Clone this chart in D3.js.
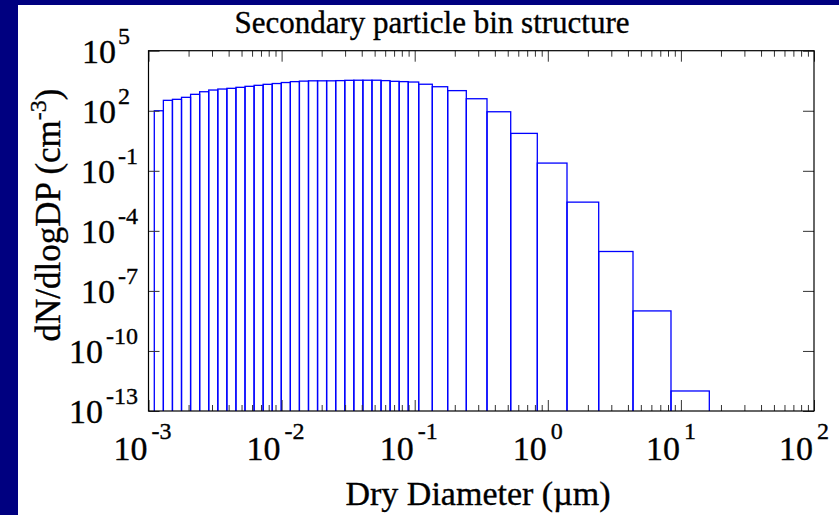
<!DOCTYPE html>
<html>
<head>
<meta charset="utf-8">
<script src="https://cdn.jsdelivr.net/npm/d3@7"></script>
<style>
  html, body { margin: 0; padding: 0; background: #000080; }
  svg { display: block; }
</style>
</head>
<body>
<svg id="chart" width="839" height="515"></svg>
<script>
// Bin edges of the secondary particle size distribution (dry diameter, µm)
const binEdges = [
  1.1055e-3, 1.2932e-3, 1.5130e-3, 1.7701e-3, 2.0711e-3, 2.4230e-3, 2.8340e-3,
  3.3165e-3, 3.8790e-3, 4.5380e-3, 5.3090e-3, 6.2130e-3, 7.2660e-3, 8.5000e-3,
  9.9450e-3, 1.1634e-2, 1.3607e-2, 1.5922e-2, 1.8626e-2, 2.1788e-2, 2.5497e-2,
  2.9833e-2, 3.4891e-2, 4.0813e-2, 4.7753e-2, 5.5859e-2, 6.5343e-2, 7.6454e-2,
  8.9435e-2, 0.1072, 0.1356, 0.1769, 0.2442, 0.3493, 0.5264, 0.8339,
  1.394, 2.412, 4.366, 8.425, 16.35
];

// Number concentration per bin, dN/dlogDp (cm^-3)
const dNdlogDp = [
  100, 331, 372, 468, 661, 891, 1084, 1216, 1318, 1479,
  1660, 1862, 2089, 2291, 2570, 2851, 3020, 3126, 3126, 3126,
  3199, 3311, 3350, 3350, 3350, 3199, 2951, 2851, 2723, 2113,
  1585, 1012, 398, 89, 7.4, 0.243, 2.72e-3, 9.3e-6, 1.0e-8, 1.0e-12
];

// Decade exponents that carry tick labels
const xTickExponents = [-3, -2, -1, 0, 1, 2];
const yTickExponents = [5, 2, -1, -4, -7, -10, -13];

const titleText = "Secondary particle bin structure";
const xTitle = "Dry Diameter (\u00B5m)";
const yTitleMain = "dN/dlogDP (cm";
const yTitleExp = "-3";

const W = 839, H = 515;
const FONT = "'Liberation Serif', 'Times New Roman', serif";
const plot = { left: 148.5, right: 814, top: 50.7, bottom: 411 };
const textWeight = 0.35;

const svg = d3.select("#chart");

// navy border with a white panel
svg.append("rect").attr("width", W).attr("height", H).attr("fill", "#000080");
svg.append("rect").attr("x", 18).attr("y", 5).attr("width", W - 18).attr("height", H - 5).attr("fill", "#ffffff");

const x = d3.scaleLog().domain([1e-3, 1e2]).range([plot.left, plot.right]);
const y = d3.scaleLog().domain([1e-13, 1e5]).range([plot.bottom, plot.top]);

svg.append("clipPath").attr("id", "plotClip")
  .append("rect")
  .attr("x", plot.left).attr("y", plot.top)
  .attr("width", plot.right - plot.left).attr("height", plot.bottom - plot.top);

// histogram bars as open outlines
const bins = dNdlogDp.map((v, i) => ({ lo: binEdges[i], hi: binEdges[i + 1], v }));
svg.append("g").attr("clip-path", "url(#plotClip)")
  .selectAll("rect").data(bins).join("rect")
  .attr("x", d => x(d.lo))
  .attr("y", d => y(d.v))
  .attr("width", d => x(d.hi) - x(d.lo))
  .attr("height", d => plot.bottom + 5 - y(d.v))
  .attr("fill", "none")
  .attr("stroke", "#0000ff")
  .attr("stroke-width", 1.3);

// tick positions
const majorX = xTickExponents.map(e => Math.pow(10, e));
const minorX = [];
for (let e = -3; e < 2; e++) for (let k = 2; k <= 9; k++) minorX.push(k * Math.pow(10, e));
const majorY = yTickExponents.map(e => Math.pow(10, e));

function styleAxis(g) {
  g.select(".domain").remove();
  g.selectAll(".tick line").attr("stroke", "#333").attr("stroke-width", 1);
  g.selectAll(".tick text").remove();
}

const axes = svg.append("g");
axes.append("g").attr("transform", `translate(0,${plot.bottom})`)
  .call(d3.axisBottom(x).tickValues(minorX).tickSize(-6).tickFormat("")).call(styleAxis);
axes.append("g").attr("transform", `translate(0,${plot.bottom})`)
  .call(d3.axisBottom(x).tickValues(majorX).tickSize(-11).tickFormat("")).call(styleAxis);
axes.append("g").attr("transform", `translate(0,${plot.top})`)
  .call(d3.axisTop(x).tickValues(minorX).tickSize(-6).tickFormat("")).call(styleAxis);
axes.append("g").attr("transform", `translate(0,${plot.top})`)
  .call(d3.axisTop(x).tickValues(majorX).tickSize(-11).tickFormat("")).call(styleAxis);
axes.append("g").attr("transform", `translate(${plot.left},0)`)
  .call(d3.axisLeft(y).tickValues(majorY).tickSize(-11).tickFormat("")).call(styleAxis);
axes.append("g").attr("transform", `translate(${plot.right},0)`)
  .call(d3.axisRight(y).tickValues(majorY).tickSize(-11).tickFormat("")).call(styleAxis);

// frame
svg.append("rect")
  .attr("x", plot.left).attr("y", plot.top)
  .attr("width", plot.right - plot.left).attr("height", plot.bottom - plot.top)
  .attr("fill", "none").attr("stroke", "#000").attr("stroke-width", 1.2);

const labels = svg.append("g")
  .attr("font-family", FONT).attr("fill", "#000")
  .attr("stroke", "#000").attr("stroke-width", textWeight);

// x tick labels: base "10" ends at the tick, exponent follows
xTickExponents.forEach(e => {
  const px = x(Math.pow(10, e));
  labels.append("text").attr("x", px - 1).attr("y", 460).attr("text-anchor", "end")
    .attr("font-size", 34).text("10");
  labels.append("text").attr("x", px + 3).attr("y", 439).attr("text-anchor", "start")
    .attr("font-size", 24).text(String(e));
});

// y tick labels: exponents end at a common edge (positive ones leave room for a sign)
yTickExponents.forEach(e => {
  const py = y(Math.pow(10, e));
  const expText = labels.append("text")
    .attr("x", e < 0 ? 138 : 130).attr("y", py - 7).attr("text-anchor", "end")
    .attr("font-size", 24).text(String(e));
  const expStart = (e < 0 ? 138 : 130) - expText.node().getComputedTextLength();
  labels.append("text").attr("x", expStart - (e < 0 ? 3 : 2)).attr("y", py + 12)
    .attr("text-anchor", "end").attr("font-size", 34).text("10");
});

// titles
labels.append("text").attr("x", 432).attr("y", 33).attr("text-anchor", "middle")
  .attr("font-size", 31).text(titleText);

labels.append("text").attr("x", 478).attr("y", 505).attr("text-anchor", "middle")
  .attr("font-size", 34).text(xTitle);

const yt = labels.append("text")
  .attr("transform", `translate(60,215) rotate(-90)`)
  .attr("text-anchor", "middle")
  .attr("font-size", 35);
yt.append("tspan").text(yTitleMain);
yt.append("tspan").attr("dy", -14).attr("font-size", 24).text(yTitleExp);
yt.append("tspan").attr("dy", 14).text(")");
</script>
</body>
</html>
